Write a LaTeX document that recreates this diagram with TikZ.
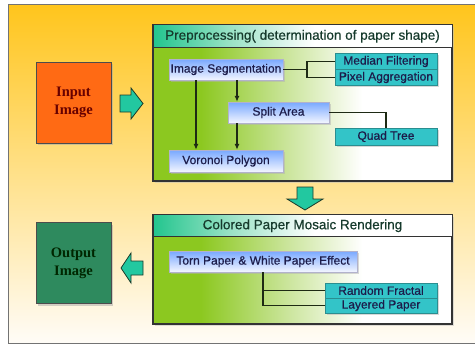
\documentclass[tikz,border=0pt]{standalone}
\usepackage{fontspec}
\setmainfont{Liberation Sans}
\newfontfamily\semib[FakeBold=0.6]{Liberation Sans}
\newfontfamily\serifb{Liberation Serif}
\usetikzlibrary{arrows.meta,shadows}
\definecolor{bgtop}{HTML}{FFC51C}
\definecolor{bgmid}{HTML}{FFE4A8}
\definecolor{bgbot}{HTML}{FFFCF7}
\definecolor{bgreen}{HTML}{8CC820}
\definecolor{bgreen2}{HTML}{CDE6A0}
\definecolor{tteal}{HTML}{22C58E}
\definecolor{tteal2}{HTML}{9BE2C6}
\definecolor{bluetop}{HTML}{78A8FF}
\definecolor{bluebot}{HTML}{F4F6FF}
\definecolor{cyanf}{HTML}{33C4C8}
\definecolor{cyand}{HTML}{2A8E90}
\definecolor{navy}{HTML}{1C1C4A}
\definecolor{titletext}{HTML}{163A2C}
\definecolor{lined}{HTML}{1E2A14}
\definecolor{arrf}{HTML}{22C8A0}
\definecolor{arrd}{HTML}{1A3A2A}
\definecolor{inorange}{HTML}{FF6A14}
\definecolor{outgreen}{HTML}{2E8A5E}
\pgfdeclarehorizontalshading{bodyshade}{100bp}{color(0bp)=(bgreen); color(25bp)=(bgreen); color(33bp)=(bgreen); color(48bp)=(bgreen2); color(60bp)=(white); color(100bp)=(white)}
\pgfdeclarehorizontalshading{titleshade}{100bp}{color(0bp)=(tteal); color(25bp)=(tteal); color(38bp)=(tteal2); color(52bp)=(white); color(100bp)=(white)}
\tikzset{
  groupbox/.style={draw=black!80, line width=1.1pt, shading=bodyshade, inner sep=0pt,
    drop shadow={shadow xshift=2pt, shadow yshift=-2pt, fill=black!25}},
  titlebar/.style={draw=black!80, line width=0.6pt, shading=titleshade, inner sep=0pt,
    font=\semib\fontsize{13.5}{15}\selectfont, text=titletext},
  bluebox/.style={draw=blue!20!gray!50, line width=0.4pt, top color=bluetop, bottom color=bluebot,
    inner sep=0pt, font=\semib\fontsize{12}{13}\selectfont, text=navy,
    drop shadow={shadow xshift=2pt, shadow yshift=-2pt, fill=black!30}},
  cyanbox/.style={draw=cyand, line width=0.6pt, fill=cyanf, inner sep=0pt,
    font=\semib\fontsize{12}{13}\selectfont, text=navy,
    drop shadow={shadow xshift=1.5pt, shadow yshift=-1.5pt, fill=black!30}},
  bigbox/.style={draw=black!70, line width=1pt, inner sep=0pt, minimum width=75pt, minimum height=81pt,
    align=center, font=\serifb\bfseries\fontsize{14.5}{18}\selectfont,
    drop shadow={shadow xshift=2pt, shadow yshift=-2pt, fill=black!35}},
  conn/.style={draw=lined, line width=1.2pt},
  arr/.style={conn, -{Latex[length=6pt,width=5pt]}, draw=lined},
  blockarrow/.style={fill=arrf, draw=arrd, line width=0.8pt, line join=miter}
}
\begin{document}
\begin{tikzpicture}[x=1pt,y=-1pt]
\useasboundingbox (0,0) rectangle (475,346);
% background
\fill[top color=bgtop, middle color=bgmid, bottom color=bgbot] (8,4) rectangle (476,343);
\draw[black!55, line width=1pt] (476,4) -- (8,4) -- (8,343) -- (476,343);

% input / output
\node[bigbox, fill=inorange, text=red!40!black] (in) at (73.5,102.5) {Input\\Image};
\node[bigbox, fill=outgreen, text=black!85!green] (out) at (73.5,263) {Output\\Image};

% group boxes
\node[groupbox, minimum width=299pt, minimum height=156pt] (pre) at (302.5,103) {};
\node[titlebar, minimum width=299pt, minimum height=23pt, anchor=north] (pret) at (pre.north) {Preprocessing( determination of paper shape)};
\node[groupbox, minimum width=299pt, minimum height=109pt] (mos) at (302.5,269.5) {};
\node[titlebar, minimum width=299pt, minimum height=22pt, anchor=north] (most) at (mos.north) {Colored Paper Mosaic Rendering};

% inner nodes (preprocessing)
\node[bluebox, minimum width=114pt, minimum height=21pt] (seg) at (226,69.5) {Image Segmentation};
\node[bluebox, minimum width=101pt, minimum height=21pt] (split) at (278.5,112.5) {Split Area};
\node[bluebox, minimum width=114pt, minimum height=22pt] (vor) at (226,161) {Voronoi Polygon};
\node[cyanbox, minimum width=102pt, minimum height=16pt] (med) at (386,61.5) {Median Filtering};
\node[cyanbox, minimum width=102pt, minimum height=16pt] (pix) at (386,77.5) {Pixel Aggregation};
\node[cyanbox, minimum width=102pt, minimum height=17pt] (quad) at (386,136.5) {Quad Tree};

% inner nodes (mosaic)
\node[bluebox, minimum width=188pt, minimum height=21pt] (torn) at (263,261.5) {Torn Paper \& White Paper Effect};
\node[cyanbox, minimum width=112pt, minimum height=15pt] (rf) at (381,290.5) {Random Fractal};
\node[cyanbox, minimum width=112pt, minimum height=15pt] (lp) at (381,305.5) {Layered Paper};

% connectors
\coordinate (j1) at (307,69.5);
\draw[conn] (seg.east) -- (j1);
\draw[conn] (med.west) -| (j1) |- (pix.west);
\draw[conn] (split.east) -| (quad.north);
\coordinate (c1) at ([xshift=-30pt]seg.south);
\coordinate (c2) at ([xshift=11pt]seg.south);
\draw[arr] (c1) -- (c1 |- vor.north);
\draw[arr] (c2) -- (c2 |- split.north);
\draw[arr] (c2 |- split.south) -- (c2 |- vor.north);
\draw[conn] (torn.south) |- (rf.west);
\draw[conn] (torn.south) |- (lp.west);

% block arrows
\draw[blockarrow] (120,95) -- (131,95) -- (131,88) -- (143,103.5) -- (131,119) -- (131,112) -- (120,112) -- cycle;
\draw[blockarrow] (143,261) -- (131,261) -- (131,253) -- (121,268) -- (131,283) -- (131,275) -- (143,275) -- cycle;
\draw[blockarrow] (297,187) -- (313,187) -- (313,199) -- (323,199) -- (305,210) -- (287,199) -- (297,199) -- cycle;
\end{tikzpicture}
\end{document}
